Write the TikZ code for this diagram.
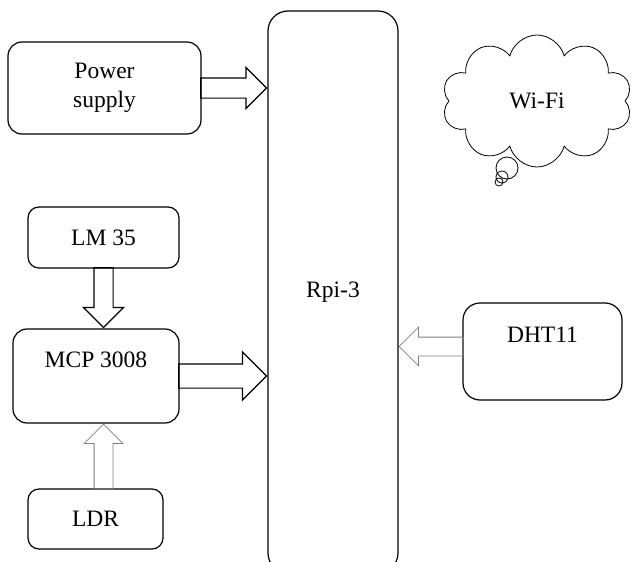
\documentclass[tikz,border=0pt]{standalone}
\usepackage{fontspec}
\setmainfont{Liberation Serif}
\usetikzlibrary{shapes.arrows,shapes.symbols,calc}

\tikzset{
  block/.style={draw, line width=1.2pt, rounded corners=14pt, align=center},
  fatbody/.style={draw, line width=1.2pt, single arrow, inner xsep=0pt, inner ysep=9.5pt,
    single arrow head extend=10.5pt, single arrow tip angle=90},
  fat/.style={to path={let \p1=(\tikztostart), \p2=(\tikztotarget), \n1={veclen(\x2-\x1,\y2-\y1)} in
    -- (\tikztotarget) node[at end, sloped, allow upside down, anchor=tip, fatbody, minimum height=\n1] {}}},
  thinfat/.style={fatbody/.append style={draw=gray, line width=0.8pt, inner ysep=9pt, single arrow head extend=10pt}}
}

\begin{document}
\begin{tikzpicture}[x=1pt, y=-1pt, font=\fontsize{23.5}{29}\selectfont]
\useasboundingbox (0,0) rectangle (633,562);

\node [block, minimum width=193pt, minimum height=92pt] (ps) at (104.5,88) {Power\\supply};
\node [block, minimum width=130pt, minimum height=562pt, rounded corners=20pt] (rpi) at (333,292) {Rpi-3};
\node [block, minimum width=151pt, minimum height=61pt, rounded corners=11pt] (lm) at (103.5,237.5) {LM 35};
\node [block, minimum width=166pt, minimum height=94pt, label={[yshift=16.5pt]center:MCP 3008}] (mcp) at (96,376) {};
\node [block, minimum width=135pt, minimum height=60pt, rounded corners=11pt] (ldr) at (95.5,519) {LDR};
\node [block, minimum width=159pt, minimum height=97pt, rounded corners=17pt, label={[yshift=17pt]center:DHT11}] (dht) at (542.5,351.5) {};

% cloud
\node [cloud, draw, line width=0.8pt, cloud puffs=10, cloud ignores aspect, minimum width=190pt, minimum height=132pt] (wifi) at (537,101) {Wi-Fi};
\draw [line width=0.8pt] (507,168) circle (11pt) (502,177) circle (6pt) (499,182) circle (4pt);

% block arrows
\path (ps.east) to[fat] (ps.east -| rpi.west);
\path (lm.south) to[fat, fatbody/.append style={inner ysep=9pt}] (lm.south |- mcp.north);
\path (mcp.east) to[fat, fatbody/.append style={inner ysep=11.5pt, single arrow head extend=12pt}] (mcp.east -| rpi.west);
\path (lm.south |- ldr.north) to[fat, thinfat] (lm.south |- mcp.south);
\coordinate (dhtin) at ($(dht.west)+(0,-5)$);
\path (dhtin) to[fat, thinfat] (dhtin -| rpi.east);

\end{tikzpicture}
\end{document}
